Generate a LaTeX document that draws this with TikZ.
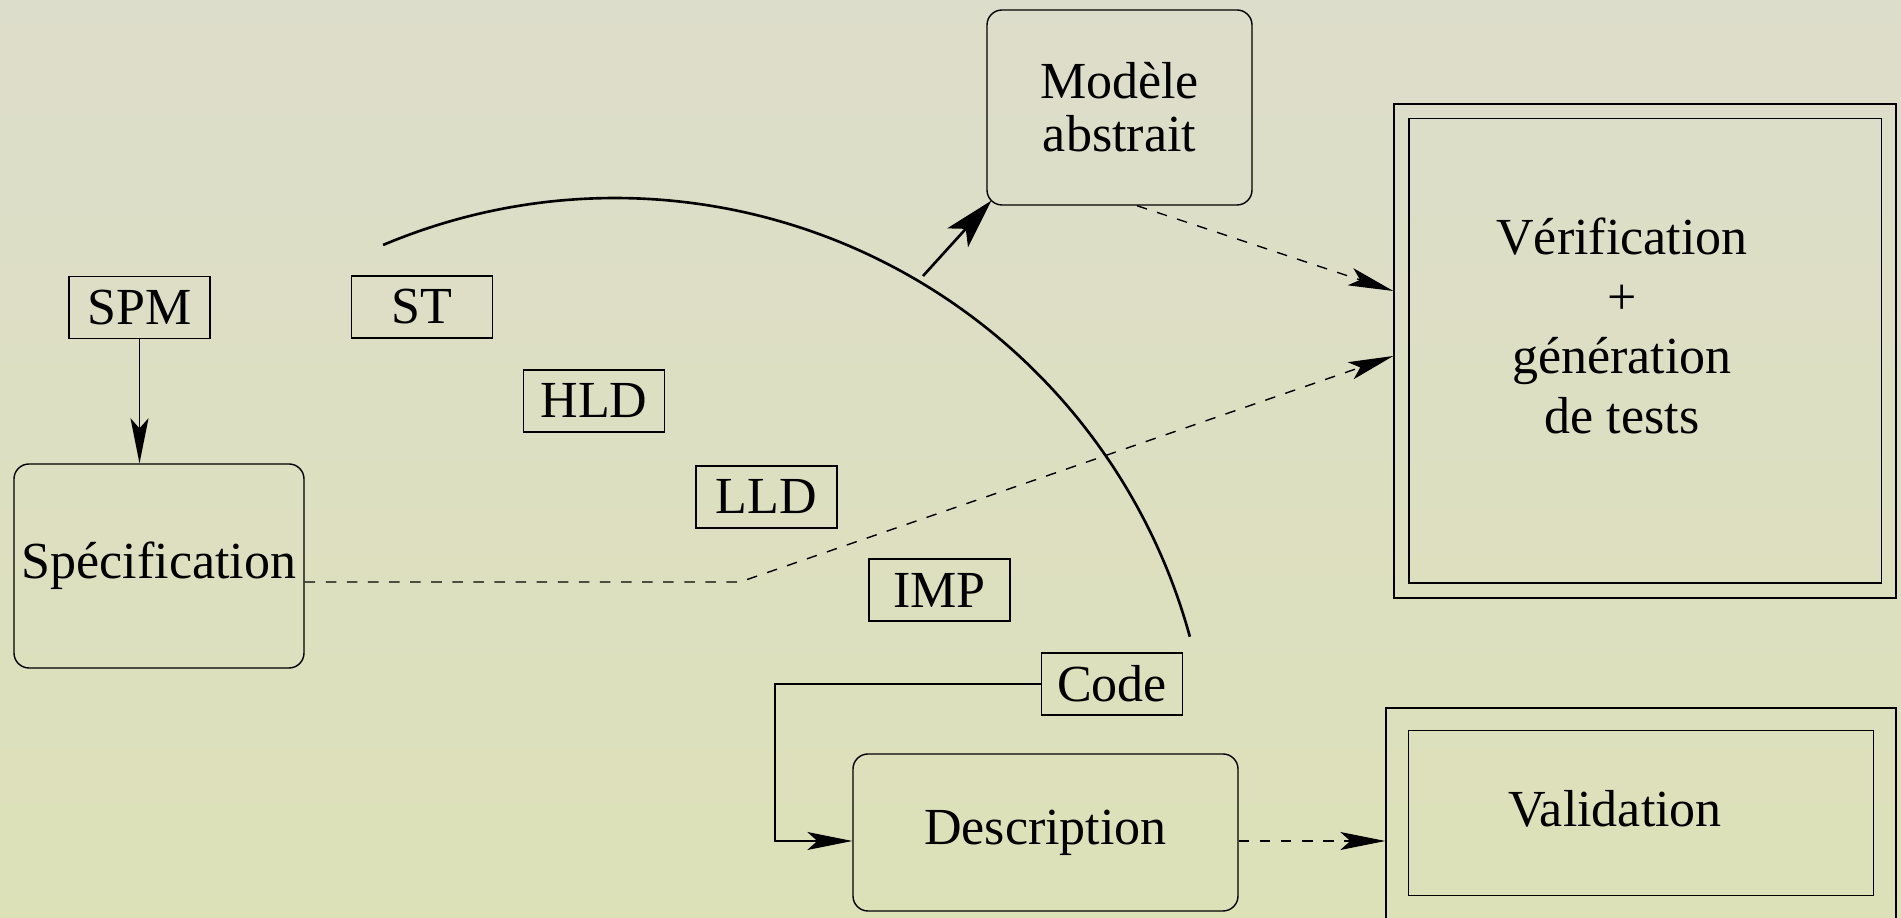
\documentclass[tikz,border=0pt]{standalone}
\usepackage{fontspec}
\setmainfont{Liberation Serif}
\usetikzlibrary{arrows.meta, positioning}
\definecolor{bgtop}{HTML}{DDDDCB}
\definecolor{bgbottom}{HTML}{DDE1B8}

\begin{document}
\begin{tikzpicture}[
    font=\fontsize{14.8}{17}\selectfont,
    tag/.style={rectangle, draw, line width=0.4pt, minimum width=1.41cm, minimum height=0.62cm, inner sep=0pt},
    block/.style={rectangle, rounded corners=0.15cm, draw, line width=0.4pt, inner sep=0pt, align=center},
    frame/.style={rectangle, draw, line width=0.4pt, inner sep=0pt},
    arrow/.style={-{Stealth[length=4.5mm, width=1.8mm, inset=1mm]}, line width=0.4pt},
    dasharrow/.style={arrow, dashed},
    bigarrow/.style={-{Stealth[length=5mm, width=2.8mm, inset=1.2mm]}, line width=0.75pt},
  ]
  \shade[top color=bgtop, bottom color=bgbottom] (0,0) rectangle (19.01,9.18);
  \useasboundingbox (0,0) rectangle (19.01,9.18);

  \node[tag] (spm) at (1.395,6.105) {SPM};
  \node[tag] (st) at (4.22,6.11) {ST};
  \node[tag] (hld) at (5.94,5.17) {HLD};
  \node[tag] (lld) at (7.665,4.21) {LLD};
  \node[tag] (imp) at (9.395,3.28) {IMP};
  \node[tag] (code) at (11.12,2.34) {Code};

  \node[block, minimum width=2.90cm, minimum height=2.04cm] (spec) at (1.59,3.52) {Spécification};
  \node[block, minimum width=2.65cm, minimum height=1.95cm, font=\fontsize{14.8}{15}\selectfont] (model) at (11.195,8.105) {Modèle\\abstrait};
  \node[block, minimum width=3.85cm, minimum height=1.57cm] (desc) at (10.455,0.855) {Description};

  \node[frame, minimum width=5.02cm, minimum height=4.94cm] (verif) at (16.45,5.67) {};
  \draw ([shift={(0.155,-0.155)}]verif.north west) rectangle ([shift={(-0.155,0.155)}]verif.south east);
  \node[align=center] (veriftxt) at (16.22,5.92) {Vérification\\+\\génération\\de tests};

  \node[frame, minimum width=5.10cm, minimum height=2.16cm] (valid) at (16.41,1.02) {};
  \draw ([shift={(0.23,-0.23)}]valid.north west) rectangle ([shift={(-0.23,0.29)}]valid.south east);
  \node (validtxt) at (16.15,1.09) {Validation};

  \draw[arrow] (spm.south) -- (spm.south |- spec.north);

  \coordinate (specout) at ([yshift=-0.16cm]spec.east);
  \coordinate (bend) at (7.40,3.36);
  \coordinate (verifin) at ([yshift=-0.05cm]verif.west);
  \coordinate (verifup) at ([yshift=0.60cm]verif.west);
  \draw[dasharrow] (specout) -- (bend) -- (verifin);
  \draw[dasharrow] ([xshift=0.175cm]model.south) -- (verifup);

  \coordinate (arcstart) at (3.831,6.730);
  \draw[line width=0.75pt] (arcstart) arc[start angle=112.9, end angle=15.3, radius=5.96];
  \coordinate (arctail) at (9.23,6.42);
  \draw[bigarrow] (arctail) -- ([shift={(0.05,0.05)}]model.south west);

  \coordinate (descin) at ([yshift=-0.085cm]desc.west);
  \coordinate (descout) at ([yshift=-0.085cm]desc.east);
  \draw[arrow] (code.west) -- ++(-2.66,0) |- (descin);
  \draw[dasharrow] (descout) -- (descout -| valid.west);
\end{tikzpicture}
\end{document}
